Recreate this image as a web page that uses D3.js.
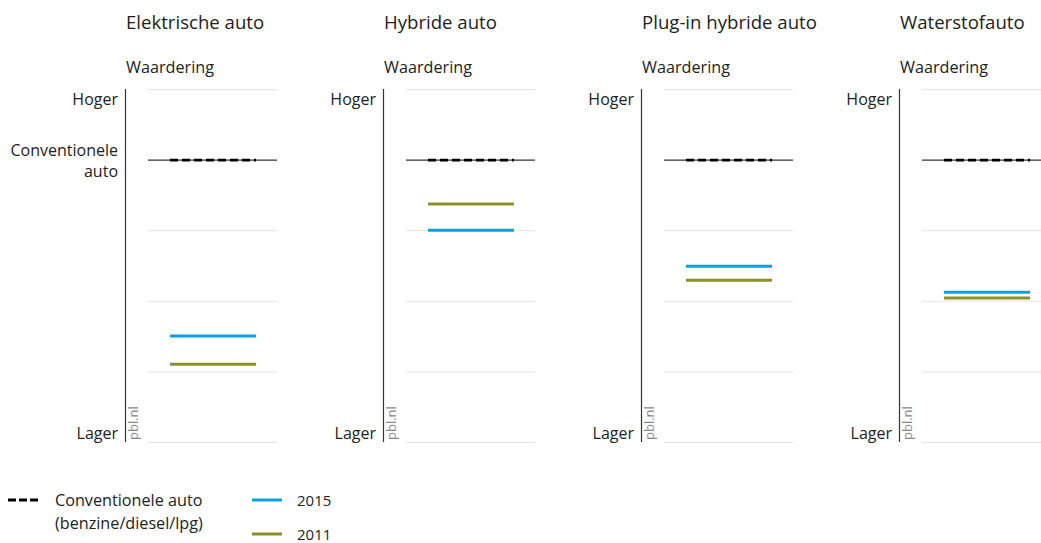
<!DOCTYPE html>
<html><head><meta charset="utf-8">
<script src="https://cdn.jsdelivr.net/npm/d3@7"></script>
<style>body{margin:0;background:#fff;} text{font-family:"Open Sans",sans-serif;fill:#222;}</style>
</head><body>
<svg id="c" width="1041" height="543"></svg>
<script>
const categories = ["Elektrische auto", "Hybride auto", "Plug-in hybride auto", "Waterstofauto"];
const values2015 = [1.5, 3.0, 2.49, 2.12];
const values2011 = [1.1, 3.37, 2.29, 2.04];
const conventional = [4, 4, 4, 4];
const gridTicks = [0, 1, 2, 3, 4, 5];
const axisLabels = {top: "Hoger", bottom: "Lager", ref: ["Conventionele", "auto"]};
const legendItems = [
  {key: "conv", label: ["Conventionele auto", "(benzine/diesel/lpg)"]},
  {key: "y2015", label: ["2015"]},
  {key: "y2011", label: ["2011"]}
];
const colors = {conv: "#000", y2015: "#0aa0e2", y2011: "#8b9128", grid: "#e3e3e3"};

const svg = d3.select("#c");
const y = d3.scaleLinear().domain([0, 5]).range([442, 89]);
const panel = d3.scaleBand().domain(categories).range([125, 1157]).paddingInner(0);
const xi = d3.scaleLinear().domain([0, 1]).range([23, 152]);

categories.forEach((cat, i) => {
  const g = svg.append("g").attr("transform", `translate(${panel(cat)},0)`);
  g.append("text").attr("x", 1).attr("y", 29).style("font-size", "18.6px").text(cat);
  g.append("text").attr("x", 1).attr("y", 73).style("font-size", "16.2px").text("Waardering");
  g.selectAll("line.grid").data(gridTicks.filter(t => t !== conventional[i])).join("line")
    .attr("x1", xi(0)).attr("x2", xi(1)).attr("y1", d => y(d) + 0.5).attr("y2", d => y(d) + 0.5)
    .attr("stroke", colors.grid).attr("stroke-width", 1);
  g.append("line").attr("x1", 0.5).attr("x2", 0.5).attr("y1", y(5)).attr("y2", y(0))
    .attr("stroke", "#333").attr("stroke-width", 1.2);
  g.append("text").attr("x", -7).attr("y", y(5) + 16).attr("text-anchor", "end").style("font-size", "16px").text(axisLabels.top);
  g.append("text").attr("x", -7).attr("y", y(0) - 3).attr("text-anchor", "end").style("font-size", "16px").text(axisLabels.bottom);
  if (i === 0) {
    axisLabels.ref.forEach((t, j) => {
      g.append("text").attr("x", -7).attr("y", y(4) - 4 + j * 21).attr("text-anchor", "end").style("font-size", "16px").text(t);
    });
  }
  g.append("text").attr("transform", `translate(${13},${y(0) - 2}) rotate(-90)`)
    .style("font-size", "13px").style("fill", "#888").text("pbl.nl");
  g.append("line").attr("x1", xi(0)).attr("x2", xi(1)).attr("y1", y(conventional[i]) + 0.5).attr("y2", y(conventional[i]) + 0.5)
    .attr("stroke", "#000").attr("stroke-width", 1);
  g.append("line").attr("x1", 45).attr("x2", 131).attr("y1", y(conventional[i]) + 0.5).attr("y2", y(conventional[i]) + 0.5)
    .attr("stroke", "#000").attr("stroke-width", 2.6).attr("stroke-dasharray", "8,4");
  g.append("line").attr("x1", 45).attr("x2", 131).attr("y1", y(values2015[i])).attr("y2", y(values2015[i]))
    .attr("stroke", colors.y2015).attr("stroke-width", 3);
  g.append("line").attr("x1", 45).attr("x2", 131).attr("y1", y(values2011[i])).attr("y2", y(values2011[i]))
    .attr("stroke", colors.y2011).attr("stroke-width", 3);
});

const lg = svg.append("g");
const lpos = [{x: 8, y: 500}, {x: 252, y: 500}, {x: 252, y: 534}];
legendItems.forEach((it, i) => {
  const p = lpos[i];
  lg.append("line").attr("x1", p.x).attr("x2", p.x + 30).attr("y1", p.y).attr("y2", p.y)
    .attr("stroke", colors[it.key]).attr("stroke-width", 3)
    .attr("stroke-dasharray", it.key === "conv" ? "8,3" : null);
  it.label.forEach((t, j) => {
    lg.append("text").attr("x", p.x + (it.key === "conv" ? 47 : 45)).attr("y", p.y + 6 + j * 23)
      .style("font-size", it.key === "conv" ? "16.2px" : "15px").text(t);
  });
});
</script>
</body></html>
